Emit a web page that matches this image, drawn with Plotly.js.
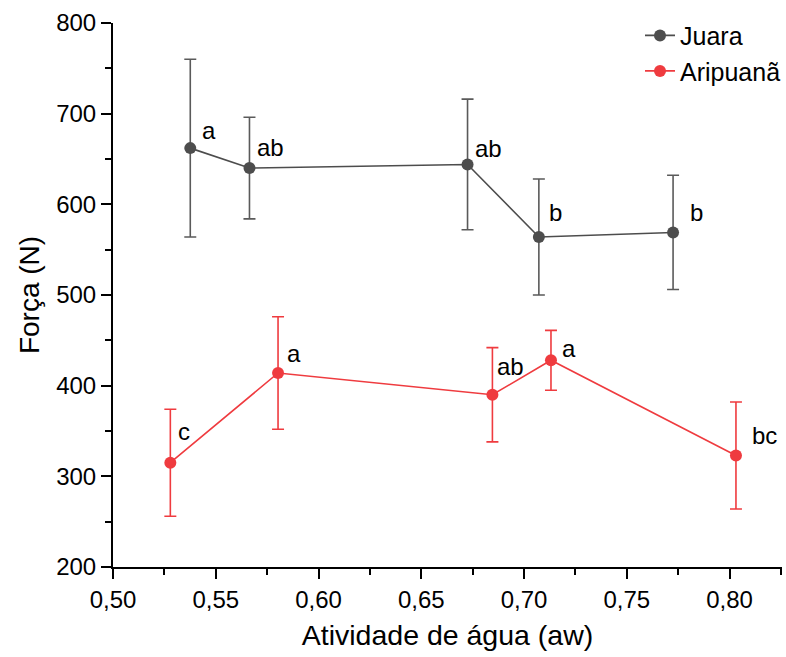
<!DOCTYPE html>
<html>
<head>
<meta charset="utf-8">
<script src="https://cdn.plot.ly/plotly-3.0.1.min.js"></script>
<style>html,body{margin:0;padding:0;background:#fff;}#chart{width:786px;height:657px;}</style>
</head>
<body>
<div id="chart"></div>
<script>
// Data
const juaraAw = [0.5376, 0.5664, 0.6725, 0.7072, 0.7725];
const juaraForce = [662, 640, 644, 564, 569];
const juaraErr = [98, 56, 72, 64, 63];
const juaraLetters = ['a', 'ab', 'ab', 'b', 'b'];

const aripAw = [0.5279, 0.5803, 0.6846, 0.7131, 0.8031];
const aripForce = [315, 414, 390, 428, 323];
const aripErr = [59, 62, 52, 33, 59];
const aripLetters = ['c', 'a', 'ab', 'a', 'bc'];

const xTickVals = [0.50, 0.55, 0.60, 0.65, 0.70, 0.75, 0.80];
const xTickText = ['0,50', '0,55', '0,60', '0,65', '0,70', '0,75', '0,80'];

// Styles
const grayLine = '#4d4d4d';
const grayErr = '#5a5a5a';
const red = '#ef3b3f';
const font = 'Liberation Sans, Arial, sans-serif';
const juaraShift = [[10, 18], [6, 21], [5, 16], [8, 24], [15, 20]];
const aripShift = [[6, 31], [7, 19], [3, 28], [9, 12], [14, 20]];

const traces = [
  {
    x: juaraAw, y: juaraForce, name: 'Juara', type: 'scatter', mode: 'lines+markers',
    line: {color: grayLine, width: 1.6},
    marker: {color: grayLine, size: 12},
    error_y: {type: 'data', array: juaraErr, visible: true, color: grayErr, thickness: 1.6, width: 6}
  },
  {
    x: aripAw, y: aripForce, name: 'Aripuanã', type: 'scatter', mode: 'lines+markers',
    line: {color: red, width: 1.6},
    marker: {color: red, size: 12},
    error_y: {type: 'data', array: aripErr, visible: true, color: red, thickness: 1.6, width: 6}
  }
];

const annotations = [];
juaraLetters.forEach((t, i) => annotations.push({
  x: juaraAw[i], y: juaraForce[i], xref: 'x', yref: 'y', text: t, showarrow: false,
  xanchor: 'left', yanchor: 'middle', xshift: juaraShift[i][0], yshift: juaraShift[i][1],
  font: {family: font, size: 24, color: '#000'}
}));
aripLetters.forEach((t, i) => annotations.push({
  x: aripAw[i], y: aripForce[i], xref: 'x', yref: 'y', text: t, showarrow: false,
  xanchor: 'left', yanchor: 'middle', xshift: aripShift[i][0], yshift: aripShift[i][1],
  font: {family: font, size: 24, color: '#000'}
}));

const layout = {
  width: 786, height: 657,
  margin: {l: 113, r: 0, t: 23, b: 90},
  paper_bgcolor: '#fff', plot_bgcolor: '#fff',
  font: {family: font, size: 24, color: '#000'},
  separators: ',.',
  showlegend: true,
  legend: {x: 0.788, y: 1.019, xanchor: 'left', yanchor: 'top', bgcolor: 'rgba(0,0,0,0)',
           font: {family: font, size: 25, color: '#000'}, tracegroupgap: 0},
  xaxis: {
    range: [0.5, 0.8255], showgrid: false, zeroline: false,
    showline: true, linecolor: '#000', linewidth: 2, mirror: false,
    tickmode: 'array', tickvals: xTickVals, ticktext: xTickText,
    ticks: 'outside', ticklen: 10, tickwidth: 2, tickcolor: '#000',
    minor: {dtick: 0.025, tick0: 0.5, ticks: 'outside', ticklen: 6, tickwidth: 2, tickcolor: '#000', showgrid: false},
    tickfont: {family: font, size: 24, color: '#000'},
    title: {text: 'Atividade de água (aw)', font: {family: font, size: 28.5, color: '#000'}, standoff: 13}
  },
  yaxis: {
    range: [200, 800], showgrid: false, zeroline: false,
    showline: true, linecolor: '#000', linewidth: 2, mirror: false,
    dtick: 100, tick0: 200,
    ticks: 'outside', ticklen: 10, tickwidth: 2, tickcolor: '#000',
    minor: {dtick: 50, tick0: 200, ticks: 'outside', ticklen: 6, tickwidth: 2, tickcolor: '#000', showgrid: false},
    tickfont: {family: font, size: 24, color: '#000'},
    title: {text: 'Força (N)', font: {family: font, size: 28, color: '#000'}, standoff: 8}
  },
  annotations: annotations
};

Plotly.newPlot('chart', traces, layout, {displayModeBar: false, staticPlot: true});
</script>
</body>
</html>
